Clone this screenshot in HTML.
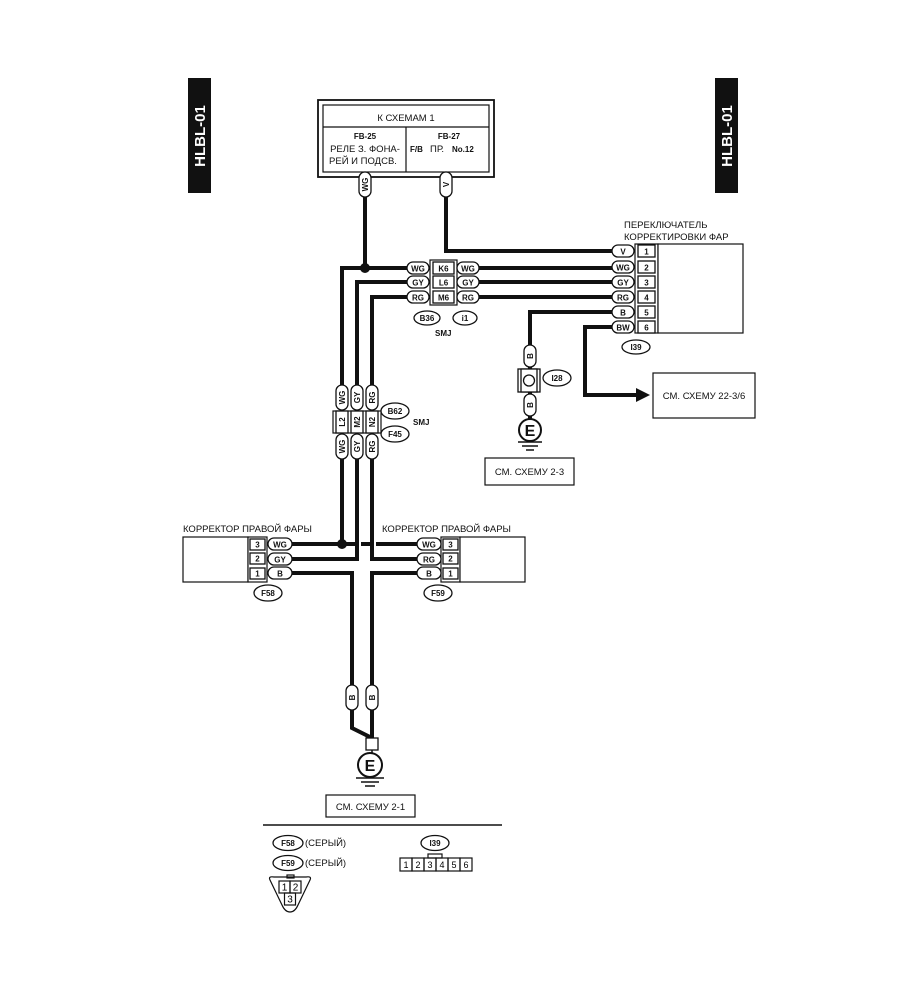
<!DOCTYPE html>
<html><head><meta charset="utf-8"><style>
html,body{margin:0;padding:0;background:#fff;}
svg{display:block;font-family:"Liberation Sans",sans-serif;}
.t{font-size:9.5px;fill:#111;}
.b{font-size:8px;font-weight:bold;fill:#111;}
.w{stroke:#111;stroke-width:4;fill:none;}
.p{fill:#fff;stroke:#111;stroke-width:1.3;}
.o{fill:none;stroke:#111;stroke-width:1.2;}
</style></head><body>
<svg width="900" height="1001" viewBox="0 0 900 1001">
<rect x="188" y="78" width="23" height="115" fill="#111"/>
<text transform="translate(205,136) rotate(-90)" text-anchor="middle" font-size="15" font-weight="bold" fill="#fff">HLBL-01</text>
<rect x="715" y="78" width="23" height="115" fill="#111"/>
<text transform="translate(732,136) rotate(-90)" text-anchor="middle" font-size="15" font-weight="bold" fill="#fff">HLBL-01</text>

<rect x="318" y="100" width="176" height="77" fill="#fff" stroke="#111" stroke-width="1.8"/>
<rect x="323" y="105" width="166" height="67" class="o"/>
<line x1="323" y1="127" x2="489" y2="127" stroke="#111" stroke-width="1.2"/>
<line x1="406" y1="127" x2="406" y2="172" stroke="#111" stroke-width="1.2"/>
<text x="406" y="121" class="t" text-anchor="middle">К СХЕМАМ 1</text>
<text x="365" y="139" class="b" text-anchor="middle">FB-25</text>
<text x="365" y="152" class="t" text-anchor="middle">РЕЛЕ З. ФОНА-</text>
<text x="363" y="164" class="t" text-anchor="middle">РЕЙ И ПОДСВ.</text>
<text x="449" y="139" class="b" text-anchor="middle">FB-27</text>
<text x="410" y="152" class="b">F/B</text>
<text x="430" y="152" class="t">ПР.</text>
<text x="452" y="152" class="b">No.12</text>

<path class="w" d="M365 195 V268"/>
<path class="w" d="M446 195 V251 H612"/>
<path class="w" d="M612 268 H342 V385"/>
<path class="w" d="M612 282 H357 V385"/>
<path class="w" d="M612 297 H372 V385"/>
<path class="w" d="M612 312 H530 V345"/>
<path class="w" d="M530 367 V369 M530 392 V394 M530 416 V420"/>
<path class="w" d="M612 327 H585 V395 H636"/>
<polygon points="636,388 650,395 636,402" fill="#111"/>
<circle cx="365" cy="268" r="5" fill="#111"/>

<rect x="430" y="260" width="27" height="45" fill="#fff" stroke="#111" stroke-width="1.2"/>
<rect x="433" y="262" width="21" height="12" class="p"/><text x="443.5" y="271.5" class="b" text-anchor="middle">K6</text>
<rect x="433" y="276" width="21" height="12" class="p"/><text x="443.5" y="285.5" class="b" text-anchor="middle">L6</text>
<rect x="433" y="291" width="21" height="12" class="p"/><text x="443.5" y="300.5" class="b" text-anchor="middle">M6</text>
<g>
<rect x="407" y="262" width="22" height="12" rx="6" class="p"/><text x="418" y="271.5" class="b" text-anchor="middle">WG</text>
<rect x="407" y="276" width="22" height="12" rx="6" class="p"/><text x="418" y="285.5" class="b" text-anchor="middle">GY</text>
<rect x="407" y="291" width="22" height="12" rx="6" class="p"/><text x="418" y="300.5" class="b" text-anchor="middle">RG</text>
<rect x="457" y="262" width="22" height="12" rx="6" class="p"/><text x="468" y="271.5" class="b" text-anchor="middle">WG</text>
<rect x="457" y="276" width="22" height="12" rx="6" class="p"/><text x="468" y="285.5" class="b" text-anchor="middle">GY</text>
<rect x="457" y="291" width="22" height="12" rx="6" class="p"/><text x="468" y="300.5" class="b" text-anchor="middle">RG</text>
</g>
<ellipse cx="427" cy="318" rx="13" ry="7" class="p"/><text x="427" y="321" class="b" text-anchor="middle">B36</text>
<ellipse cx="465" cy="318" rx="12" ry="7" class="p"/><text x="465" y="321" class="b" text-anchor="middle">i1</text>
<text x="435" y="336" class="b">SMJ</text>

<rect x="359" y="172" width="12" height="25" rx="6" class="p"/><text transform="translate(368,184.5) rotate(-90)" class="b" text-anchor="middle">WG</text>
<rect x="440" y="172" width="12" height="25" rx="6" class="p"/><text transform="translate(449,184.5) rotate(-90)" class="b" text-anchor="middle">V</text>

<text x="624" y="228" class="t">ПЕРЕКЛЮЧАТЕЛЬ</text>
<text x="624" y="240" class="t">КОРРЕКТИРОВКИ ФАР</text>
<rect x="635" y="244" width="23" height="89" fill="#fff" stroke="#111" stroke-width="1.2"/>
<rect x="658" y="244" width="85" height="89" fill="#fff" stroke="#111" stroke-width="1.2"/>
<g class="b" text-anchor="middle">
<rect x="612" y="245" width="22" height="12" rx="6" class="p"/><text x="623" y="254.5">V</text>
<rect x="612" y="261" width="22" height="12" rx="6" class="p"/><text x="623" y="270.5">WG</text>
<rect x="612" y="276" width="22" height="12" rx="6" class="p"/><text x="623" y="285.5">GY</text>
<rect x="612" y="291" width="22" height="12" rx="6" class="p"/><text x="623" y="300.5">RG</text>
<rect x="612" y="306" width="22" height="12" rx="6" class="p"/><text x="623" y="315.5">B</text>
<rect x="612" y="321" width="22" height="12" rx="6" class="p"/><text x="623" y="330.5">BW</text>
<rect x="638" y="245" width="17" height="12" class="p"/><text x="646.5" y="254.5">1</text>
<rect x="638" y="261" width="17" height="12" class="p"/><text x="646.5" y="270.5">2</text>
<rect x="638" y="276" width="17" height="12" class="p"/><text x="646.5" y="285.5">3</text>
<rect x="638" y="291" width="17" height="12" class="p"/><text x="646.5" y="300.5">4</text>
<rect x="638" y="306" width="17" height="12" class="p"/><text x="646.5" y="315.5">5</text>
<rect x="638" y="321" width="17" height="12" class="p"/><text x="646.5" y="330.5">6</text>
</g>
<ellipse cx="636" cy="347" rx="14" ry="7" class="p"/><text x="636" y="350" class="b" text-anchor="middle">I39</text>

<rect x="524" y="345" width="12" height="22" rx="6" class="p"/><text transform="translate(533,356) rotate(-90)" class="b" text-anchor="middle">B</text>
<rect x="518" y="369" width="22" height="23" class="p"/><rect x="521" y="369" width="16" height="23" class="p"/>
<circle cx="529" cy="380.5" r="5.5" class="p"/>
<ellipse cx="557" cy="378" rx="14" ry="8" class="p"/><text x="557" y="381" class="b" text-anchor="middle">I28</text>
<rect x="524" y="394" width="12" height="22" rx="6" class="p"/><text transform="translate(533,405) rotate(-90)" class="b" text-anchor="middle">B</text>
<circle cx="530" cy="430" r="11" fill="#fff" stroke="#111" stroke-width="2"/>
<text x="530" y="436" font-size="16" font-weight="bold" text-anchor="middle" fill="#111">E</text>
<line x1="518" y1="442" x2="542" y2="442" stroke="#111" stroke-width="1.5"/>
<line x1="522" y1="446" x2="538" y2="446" stroke="#111" stroke-width="1.5"/>
<line x1="526" y1="450" x2="534" y2="450" stroke="#111" stroke-width="1.5"/>
<rect x="485" y="458" width="89" height="27" class="o"/>
<text x="529.5" y="475" class="t" text-anchor="middle">СМ. СХЕМУ 2-3</text>
<rect x="653" y="373" width="102" height="45" class="o"/>
<text x="704" y="399" class="t" text-anchor="middle">СМ. СХЕМУ 22-3/6</text>

<g class="b" text-anchor="middle">
<rect x="336" y="385" width="12" height="25" rx="6" class="p"/><text transform="translate(345,397.5) rotate(-90)">WG</text>
<rect x="351" y="385" width="12" height="25" rx="6" class="p"/><text transform="translate(360,397.5) rotate(-90)">GY</text>
<rect x="366" y="385" width="12" height="25" rx="6" class="p"/><text transform="translate(375,397.5) rotate(-90)">RG</text>
<rect x="333" y="411" width="48" height="22" fill="#fff" stroke="#111" stroke-width="1.2"/>
<rect x="336" y="411" width="12" height="22" class="p"/><text transform="translate(345,422) rotate(-90)">L2</text>
<rect x="351" y="411" width="12" height="22" class="p"/><text transform="translate(360,422) rotate(-90)">M2</text>
<rect x="366" y="411" width="12" height="22" class="p"/><text transform="translate(375,422) rotate(-90)">N2</text>
<rect x="336" y="434" width="12" height="25" rx="6" class="p"/><text transform="translate(345,446.5) rotate(-90)">WG</text>
<rect x="351" y="434" width="12" height="25" rx="6" class="p"/><text transform="translate(360,446.5) rotate(-90)">GY</text>
<rect x="366" y="434" width="12" height="25" rx="6" class="p"/><text transform="translate(375,446.5) rotate(-90)">RG</text>
</g>
<ellipse cx="395" cy="411" rx="14" ry="8" class="p"/><text x="395" y="414" class="b" text-anchor="middle">B62</text>
<ellipse cx="395" cy="434" rx="14" ry="8" class="p"/><text x="395" y="437" class="b" text-anchor="middle">F45</text>
<text x="413" y="425" class="b">SMJ</text>

<path class="w" d="M342 459 V544"/>
<path class="w" d="M292 544 H355 M361 544 H370 M376 544 H418"/>
<circle cx="342" cy="544" r="5" fill="#111"/>
<path class="w" d="M357 459 V559 H292"/>
<path class="w" d="M372 459 V559 H418"/>
<path class="w" d="M292 573 H352 V685"/>
<path class="w" d="M418 573 H372 V685"/>
<path class="w" d="M352 710 V728 L372 738 M372 710 V738"/>

<text x="183" y="532" class="t">КОРРЕКТОР ПРАВОЙ ФАРЫ</text>
<rect x="183" y="537" width="65" height="45" fill="#fff" stroke="#111" stroke-width="1.2"/>
<rect x="248" y="537" width="19" height="45" fill="#fff" stroke="#111" stroke-width="1.2"/>
<g class="b" text-anchor="middle">
<rect x="250" y="539" width="15" height="11" class="p"/><text x="257.5" y="547.5">3</text>
<rect x="250" y="553" width="15" height="11" class="p"/><text x="257.5" y="561.5">2</text>
<rect x="250" y="568" width="15" height="11" class="p"/><text x="257.5" y="576.5">1</text>
<rect x="268" y="538" width="24" height="12" rx="6" class="p"/><text x="280" y="547.5">WG</text>
<rect x="268" y="553" width="24" height="12" rx="6" class="p"/><text x="280" y="562.5">GY</text>
<rect x="268" y="567" width="24" height="12" rx="6" class="p"/><text x="280" y="576.5">B</text>
</g>
<ellipse cx="268" cy="593" rx="14" ry="8" class="p"/><text x="268" y="596" class="b" text-anchor="middle">F58</text>

<text x="382" y="532" class="t">КОРРЕКТОР ПРАВОЙ ФАРЫ</text>
<rect x="441" y="537" width="19" height="45" fill="#fff" stroke="#111" stroke-width="1.2"/>
<rect x="460" y="537" width="65" height="45" fill="#fff" stroke="#111" stroke-width="1.2"/>
<g class="b" text-anchor="middle">
<rect x="443" y="539" width="15" height="11" class="p"/><text x="450.5" y="547.5">3</text>
<rect x="443" y="553" width="15" height="11" class="p"/><text x="450.5" y="561.5">2</text>
<rect x="443" y="568" width="15" height="11" class="p"/><text x="450.5" y="576.5">1</text>
<rect x="417" y="538" width="24" height="12" rx="6" class="p"/><text x="429" y="547.5">WG</text>
<rect x="417" y="553" width="24" height="12" rx="6" class="p"/><text x="429" y="562.5">RG</text>
<rect x="417" y="567" width="24" height="12" rx="6" class="p"/><text x="429" y="576.5">B</text>
</g>
<ellipse cx="438" cy="593" rx="14" ry="8" class="p"/><text x="438" y="596" class="b" text-anchor="middle">F59</text>

<rect x="346" y="685" width="12" height="25" rx="6" class="p"/><text transform="translate(355,697.5) rotate(-90)" class="b" text-anchor="middle">B</text>
<rect x="366" y="685" width="12" height="25" rx="6" class="p"/><text transform="translate(375,697.5) rotate(-90)" class="b" text-anchor="middle">B</text>
<rect x="366" y="738" width="12" height="12" class="p"/>
<line x1="372" y1="750" x2="372" y2="753" stroke="#111" stroke-width="1.5"/>
<circle cx="370" cy="765" r="12" fill="#fff" stroke="#111" stroke-width="2"/>
<text x="370" y="771" font-size="16" font-weight="bold" text-anchor="middle" fill="#111">E</text>
<line x1="356" y1="778" x2="384" y2="778" stroke="#111" stroke-width="1.5"/>
<line x1="361" y1="782" x2="379" y2="782" stroke="#111" stroke-width="1.5"/>
<line x1="365" y1="786" x2="375" y2="786" stroke="#111" stroke-width="1.5"/>
<rect x="326" y="795" width="89" height="22" class="o"/>
<text x="370.5" y="810" class="t" text-anchor="middle">СМ. СХЕМУ 2-1</text>

<line x1="263" y1="825" x2="502" y2="825" stroke="#111" stroke-width="1.5"/>
<ellipse cx="288" cy="843" rx="15" ry="7.5" class="p" stroke-width="2"/><text x="288" y="846" class="b" text-anchor="middle">F58</text>
<text x="305" y="846" class="t">(СЕРЫЙ)</text>
<ellipse cx="288" cy="863" rx="15" ry="7.5" class="p" stroke-width="2"/><text x="288" y="866" class="b" text-anchor="middle">F59</text>
<text x="305" y="866" class="t">(СЕРЫЙ)</text>
<path d="M270 880 Q268 876 274 877 H306 Q312 876 310 880 L298 905 Q295 912 290 912 Q285 912 282 905 Z" class="o" stroke-width="1"/>
<rect x="287" y="875" width="7" height="3" class="o" stroke-width="1"/>
<rect x="279" y="881" width="11" height="12" class="o" stroke-width="1"/><text x="284.5" y="890.5" font-size="10" text-anchor="middle">1</text>
<rect x="290" y="881" width="11" height="12" class="o" stroke-width="1"/><text x="295.5" y="890.5" font-size="10" text-anchor="middle">2</text>
<rect x="284.5" y="893" width="11" height="12" class="o" stroke-width="1"/><text x="290" y="902.5" font-size="10" text-anchor="middle">3</text>
<ellipse cx="435" cy="843" rx="14" ry="7.5" class="p" stroke-width="2"/><text x="435" y="846" class="b" text-anchor="middle">I39</text>
<rect x="428" y="854" width="14" height="4" class="o" stroke-width="1"/>
<g font-size="9" text-anchor="middle">
<rect x="400" y="858" width="12" height="13" class="o" stroke-width="1"/><text x="406" y="868">1</text>
<rect x="412" y="858" width="12" height="13" class="o" stroke-width="1"/><text x="418" y="868">2</text>
<rect x="424" y="858" width="12" height="13" class="o" stroke-width="1"/><text x="430" y="868">3</text>
<rect x="436" y="858" width="12" height="13" class="o" stroke-width="1"/><text x="442" y="868">4</text>
<rect x="448" y="858" width="12" height="13" class="o" stroke-width="1"/><text x="454" y="868">5</text>
<rect x="460" y="858" width="12" height="13" class="o" stroke-width="1"/><text x="466" y="868">6</text>
</g>
</svg>
</body></html>
